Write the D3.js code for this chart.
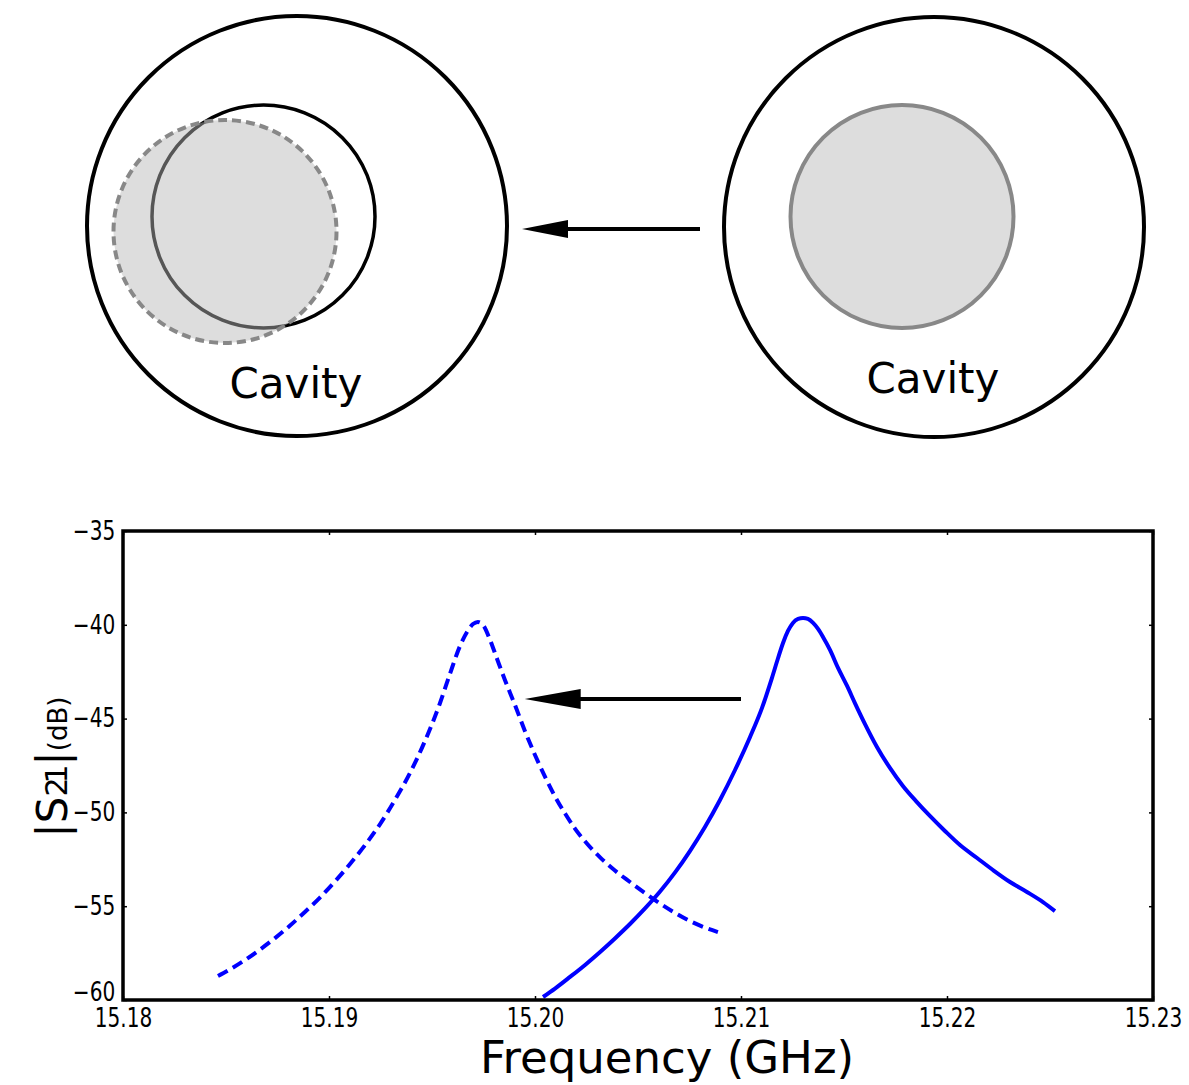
<!DOCTYPE html>
<html>
<head>
<meta charset="utf-8">
<script src="https://cdn.jsdelivr.net/npm/d3@7"></script>
<style>
    body { margin: 0; background: #fff; }
    svg { display: block; }
    .tick text { font-family: "DejaVu Sans Condensed", "DejaVu Sans", sans-serif; font-stretch: condensed; font-size: 26px; fill: #000; }
    .tick line { stroke: #000; stroke-width: 1.5; }
</style>
</head>
<body>
<div id="chart"></div>
<script>
// data
var xTicks = [15.18, 15.19, 15.20, 15.21, 15.22, 15.23];
var yTicks = [-60, -55, -50, -45, -40, -35];

// solid curve (before shift)
var solidFreq = [15.20039, 15.20097, 15.20170, 15.20243, 15.20316, 15.20388, 15.20461, 15.20534, 15.20607, 15.20680,
    15.20752, 15.20825, 15.20898, 15.20971, 15.21044, 15.21102, 15.21150, 15.21180, 15.21204, 15.21228,
    15.21252, 15.21277, 15.21301, 15.21325, 15.21350, 15.21374, 15.21398, 15.21432, 15.21471, 15.21515,
    15.21553, 15.21602, 15.21660, 15.21723, 15.21786, 15.21854, 15.21917, 15.21990, 15.22063, 15.22146,
    15.22223, 15.22306, 15.22388, 15.22466, 15.22524];
var solidDb = [-59.84, -59.39, -58.77, -58.13, -57.44, -56.72, -55.95, -55.12, -54.22, -53.20,
    -52.06, -50.78, -49.34, -47.74, -45.98, -44.43, -42.84, -41.77, -40.97, -40.33,
    -39.90, -39.69, -39.64, -39.69, -39.90, -40.22, -40.65, -41.34, -42.30, -43.26,
    -44.17, -45.29, -46.51, -47.63, -48.59, -49.45, -50.19, -50.99, -51.74, -52.43,
    -53.07, -53.71, -54.24, -54.78, -55.26];

// dashed curve (after shift)
var dashedFreq = [15.18461, 15.18519, 15.18592, 15.18665, 15.18738, 15.18811, 15.18883, 15.18956, 15.19029, 15.19102,
    15.19175, 15.19248, 15.19320, 15.19393, 15.19466, 15.19539, 15.19587, 15.19636, 15.19670, 15.19699,
    15.19723, 15.19748, 15.19782, 15.19816, 15.19854, 15.19903, 15.19951, 15.20000, 15.20049, 15.20097,
    15.20146, 15.20194, 15.20252, 15.20316, 15.20388, 15.20461, 15.20534, 15.20607, 15.20680, 15.20752,
    15.20825, 15.20888];
var dashedDb = [-58.72, -58.37, -57.87, -57.31, -56.70, -56.03, -55.31, -54.54, -53.68, -52.75,
    -51.74, -50.62, -49.34, -47.90, -46.19, -44.17, -42.62, -41.13, -40.38, -39.96,
    -39.85, -40.01, -40.81, -41.82, -42.94, -44.28, -45.66, -46.94, -48.11, -49.15,
    -50.06, -50.86, -51.66, -52.40, -53.10, -53.71, -54.30, -54.86, -55.36, -55.79,
    -56.14, -56.38];

// arrow in the plot: from tail to tip, at one level
var shiftFreq = [15.2100, 15.1995];
var shiftDb = -43.95;

var width = 1189,
    height = 1085;

var svg = d3.select("#chart")
    .append("svg")
    .attr("width", width)
    .attr("height", height);

// ---------- top diagram ----------
var diagram = svg.append("g").attr("class", "diagram");

// left cavity, post moved
diagram.append("circle")
    .attr("cx", 297).attr("cy", 226).attr("r", 210)
    .attr("fill", "none").attr("stroke", "#000").attr("stroke-width", 4);

diagram.append("circle")
    .attr("cx", 263.5).attr("cy", 216.5).attr("r", 111.5)
    .attr("fill", "none").attr("stroke", "#000").attr("stroke-width", 3.5);

diagram.append("circle")
    .attr("cx", 225).attr("cy", 231.5).attr("r", 111.5)
    .attr("fill", "rgb(182,182,182)").attr("fill-opacity", 0.47)
    .attr("stroke", "#888").attr("stroke-width", 4)
    .attr("stroke-dasharray", "9,5");

diagram.append("text")
    .attr("x", 296).attr("y", 398)
    .attr("text-anchor", "middle")
    .style("font-family", "DejaVu Sans, sans-serif")
    .style("font-size", "42px")
    .text("Cavity");

// right cavity, post centred
diagram.append("circle")
    .attr("cx", 934).attr("cy", 227).attr("r", 210)
    .attr("fill", "none").attr("stroke", "#000").attr("stroke-width", 4);

diagram.append("circle")
    .attr("cx", 902).attr("cy", 216.5).attr("r", 111.5)
    .attr("fill", "#dddddd")
    .attr("stroke", "#888").attr("stroke-width", 4);

diagram.append("text")
    .attr("x", 933).attr("y", 393)
    .attr("text-anchor", "middle")
    .style("font-family", "DejaVu Sans, sans-serif")
    .style("font-size", "42px")
    .text("Cavity");

// arrow between the cavities
diagram.append("line")
    .attr("x1", 700).attr("y1", 229)
    .attr("x2", 566).attr("y2", 229)
    .attr("stroke", "#000").attr("stroke-width", 4);
diagram.append("path")
    .attr("d", "M522,229 L568,220 L568,238 Z")
    .attr("fill", "#000");

// ---------- bottom chart ----------
var xScale = d3.scaleLinear()
    .domain([15.18, 15.23])
    .range([123, 1153]);

var yScale = d3.scaleLinear()
    .domain([-60, -35])
    .range([1000, 531]);

// axes with inside ticks, labels squeezed a little
svg.append("g")
    .attr("class", "x axis")
    .attr("transform", "translate(0,1000)")
    .call(d3.axisBottom(xScale)
        .tickValues(xTicks)
        .tickSize(-4)
        .tickPadding(9)
        .tickFormat(d3.format(".2f")))
    .call(g => g.select(".domain").remove())
    .call(g => g.selectAll(".tick text").attr("transform", "scale(0.86,1)"));

svg.append("g")
    .attr("class", "y axis")
    .attr("transform", "translate(123,0)")
    .call(d3.axisLeft(yScale)
        .tickValues(yTicks)
        .tickSize(-4)
        .tickPadding(9)
        .tickFormat(d3.format("d")))
    .call(g => g.select(".domain").remove())
    .call(g => g.selectAll(".tick text").attr("transform", "scale(0.86,1)"))
    // lowest label sits a bit higher, clear of the x labels
    .call(g => g.selectAll(".tick text").filter(d => d === -60).attr("dy", "0.0em"));

svg.append("g")
    .attr("transform", "translate(0,531)")
    .call(d3.axisTop(xScale).tickValues(xTicks).tickSize(-4).tickFormat(""))
    .call(g => g.select(".domain").remove());

svg.append("g")
    .attr("transform", "translate(1153,0)")
    .call(d3.axisRight(yScale).tickValues(yTicks).tickSize(-4).tickFormat(""))
    .call(g => g.select(".domain").remove());

// curves
var line = d3.line()
    .x(d => xScale(d[0]))
    .y(d => yScale(d[1]))
    .curve(d3.curveMonotoneX);

svg.append("path")
    .datum(d3.zip(dashedFreq, dashedDb))
    .attr("class", "dashedline")
    .attr("d", line)
    .attr("fill", "none")
    .attr("stroke", "#0000ff")
    .attr("stroke-width", 4)
    .attr("stroke-dasharray", "11,6");

svg.append("path")
    .datum(d3.zip(solidFreq, solidDb))
    .attr("class", "solidline")
    .attr("d", line)
    .attr("fill", "none")
    .attr("stroke", "#0000ff")
    .attr("stroke-width", 4)
    .attr("stroke-linejoin", "round");

// shift arrow
svg.append("line")
    .attr("x1", xScale(shiftFreq[0]))
    .attr("y1", yScale(shiftDb))
    .attr("x2", xScale(shiftFreq[1]) + 54)
    .attr("y2", yScale(shiftDb))
    .attr("stroke", "#000")
    .attr("stroke-width", 4);
svg.append("path")
    .attr("d", "M" + xScale(shiftFreq[1]) + "," + yScale(shiftDb)
        + " L" + (xScale(shiftFreq[1]) + 56) + "," + (yScale(shiftDb) - 10)
        + " L" + (xScale(shiftFreq[1]) + 56) + "," + (yScale(shiftDb) + 10) + " Z")
    .attr("fill", "#000");

// frame
svg.append("rect")
    .attr("x", 123)
    .attr("y", 531)
    .attr("width", 1030)
    .attr("height", 469)
    .attr("fill", "none")
    .attr("stroke", "#000")
    .attr("stroke-width", 3.5);

// axis titles
svg.append("text")
    .attr("x", 667)
    .attr("y", 1073)
    .attr("text-anchor", "middle")
    .style("font-family", "DejaVu Sans, sans-serif")
    .style("font-size", "45px")
    .text("Frequency (GHz)");

var ylab = svg.append("text")
    .attr("transform", "translate(67,767) rotate(-90)")
    .attr("text-anchor", "middle")
    .style("font-family", "DejaVu Sans, sans-serif");
ylab.append("tspan").style("font-size", "42px").text("|S");
ylab.append("tspan").style("font-size", "30px").attr("letter-spacing", "-6px").text("21");
ylab.append("tspan").style("font-size", "42px").attr("dx", 5).text("|");
ylab.append("tspan").style("font-size", "26px").text("(dB)");
</script>
</body>
</html>
